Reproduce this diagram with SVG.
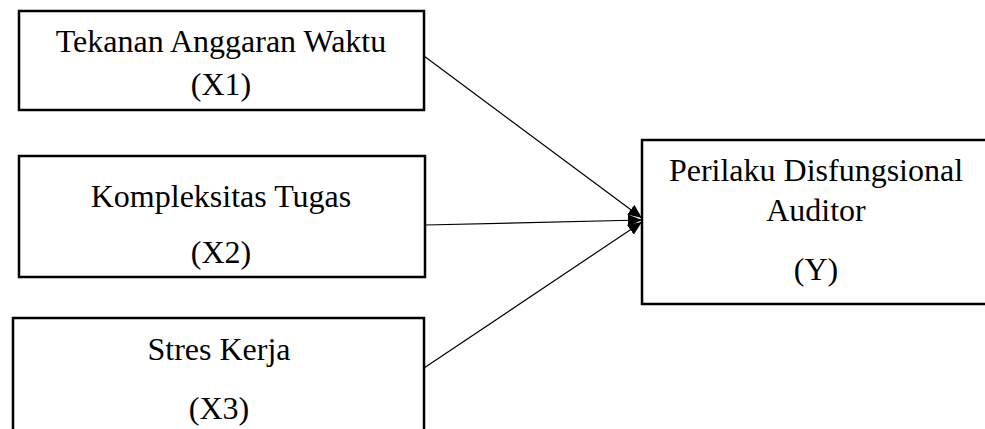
<svg xmlns="http://www.w3.org/2000/svg" width="985" height="429" viewBox="0 0 985 429">
<style>
.box{fill:#fff;stroke:#000;stroke-width:2.5}
.t{font-family:"Liberation Serif","Times New Roman",serif;font-size:32px;fill:#000;text-anchor:middle}
.c{stroke:#000;stroke-width:1.2;fill:none}
</style>
<defs>
<marker id="ah" markerUnits="userSpaceOnUse" markerWidth="16" markerHeight="12" refX="14" refY="6" orient="auto">
<path d="M0,0 L14,6 L0,12 Z" fill="#000"/>
</marker>
</defs>
<rect width="985" height="429" fill="#fff"/>
<g id="x1">
<rect class="box" x="19" y="11" width="405" height="99"/>
<text class="t" x="221" y="52">Tekanan Anggaran Waktu</text>
<text class="t" x="221" y="95">(X1)</text>
</g>
<g id="x2">
<rect class="box" x="19" y="156" width="406" height="121"/>
<text class="t" x="221" y="207">Kompleksitas Tugas</text>
<text class="t" x="221" y="263">(X2)</text>
</g>
<g id="x3">
<rect class="box" x="13" y="318" width="411" height="130"/>
<text class="t" x="219" y="360">Stres Kerja</text>
<text class="t" x="219" y="419">(X3)</text>
</g>
<g id="y">
<rect class="box" x="642" y="140" width="350" height="164"/>
<text class="t" x="816" y="181">Perilaku Disfungsional</text>
<text class="t" x="816" y="221">Auditor</text>
<text class="t" x="816" y="280">(Y)</text>
</g>
<g id="connectors">
<line class="c" x1="424" y1="56" x2="642" y2="218" marker-end="url(#ah)"/>
<line class="c" x1="425" y1="225" x2="642" y2="220" marker-end="url(#ah)"/>
<line class="c" x1="424" y1="368" x2="642" y2="222" marker-end="url(#ah)"/>
</g>
</svg>
